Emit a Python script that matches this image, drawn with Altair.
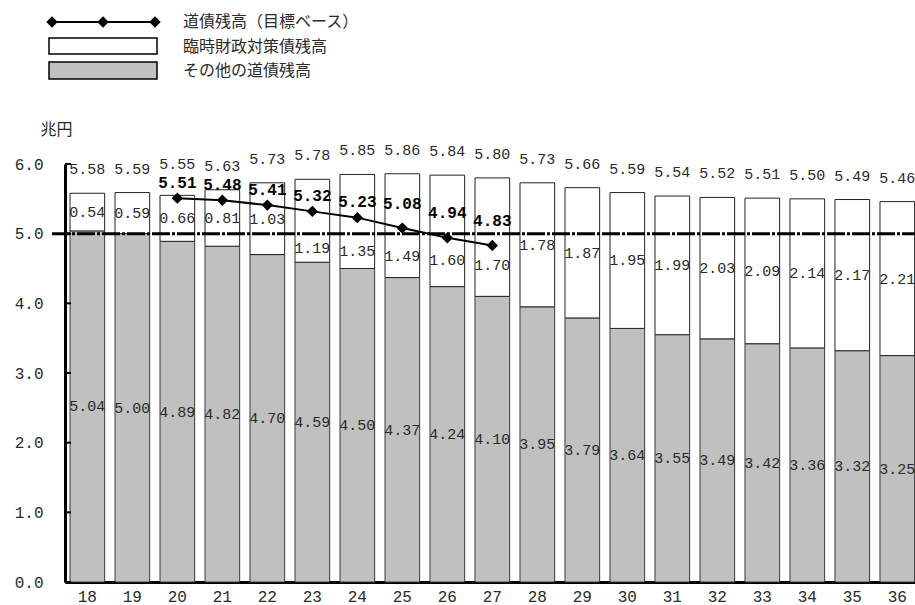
import altair as alt
import pandas as pd

# ---- data ----
years = ["18", "19", "20", "21", "22", "23", "24", "25", "26", "27",
         "28", "29", "30", "31", "32", "33", "34", "35", "36"]
other = [5.04, 5.00, 4.89, 4.82, 4.70, 4.59, 4.50, 4.37, 4.24, 4.10,
         3.95, 3.79, 3.64, 3.55, 3.49, 3.42, 3.36, 3.32, 3.25]
temp = [0.54, 0.59, 0.66, 0.81, 1.03, 1.19, 1.35, 1.49, 1.60, 1.70,
        1.78, 1.87, 1.95, 1.99, 2.03, 2.09, 2.14, 2.17, 2.21]
total = [5.58, 5.59, 5.55, 5.63, 5.73, 5.78, 5.85, 5.86, 5.84, 5.80,
         5.73, 5.66, 5.59, 5.54, 5.52, 5.51, 5.50, 5.49, 5.46]
target_years = ["20", "21", "22", "23", "24", "25", "26", "27"]
target = [5.51, 5.48, 5.41, 5.32, 5.23, 5.08, 4.94, 4.83]
ref_value = [5.0]
y_ticks = [0, 1, 2, 3, 4, 5, 6]
legend_labels = ["道債残高（目標ベース）", "臨時財政対策債残高", "その他の道債残高"]
unit_label = "兆円"

W, H = 850, 418
NUMFONT = "Liberation Mono"
JPFONT = "Noto Sans CJK JP"
GRAY = "#c0c0c0"
TXT = "#2a2a2a"

df = pd.DataFrame({"year": years, "other": other, "temp": temp, "total": total})
df["zero"] = 0.0
df["target"] = df["year"].map(dict(zip(target_years, target)))
# label positions derived from the values
df["temp_pos"] = (df["other"] + df["total"]) / 2
below = df["target"].notna() & (df["target"] < 5.35)
df.loc[below, "temp_pos"] = (df.loc[below, "other"] + ref_value[0]) / 2
df["total_pos"] = df[["total"]].join((df["target"] + 0.15).rename("t")).max(axis=1)
df["other_pos"] = df["other"] / 2
df["other_txt"] = df["other"].map("{:.2f}".format)
df["temp_txt"] = df["temp"].map("{:.2f}".format)
df["total_txt"] = df["total"].map("{:.2f}".format)

tdf = pd.DataFrame({"year": target_years, "target": target})
tdf["txt"] = tdf["target"].map("{:.2f}".format)
tdf["label_pos"] = tdf["target"] + tdf["target"].map(lambda v: 0.35 if v < 5.1 else 0.22)

xax = alt.Axis(title=None, labelAngle=0, ticks=False, domainWidth=3, domainColor="black",
               labelFont=NUMFONT, labelFontSize=16, labelColor=TXT, labelPadding=6)
X = alt.X("year:N", sort=years,
          scale=alt.Scale(paddingInner=0.23, paddingOuter=0.06, align=0.93),
          axis=xax)
yscale = alt.Scale(domain=[0, 6], nice=False, zero=True)
yax = alt.Axis(title=unit_label, titleAngle=0, titleX=-9, titleY=-35, titleAlign="center",
               titleBaseline="middle", titleFont=JPFONT, titleFontSize=16, titleFontWeight="normal",
               titleColor=TXT, values=y_ticks, format=".1f", labelFont=NUMFONT, labelFontSize=16,
               labelColor=TXT, labelPadding=22, ticks=False, grid=False, domainWidth=3,
               domainColor="black")


def Y(field):
    return alt.Y(field, type="quantitative", scale=yscale, axis=yax)


base = alt.Chart(df)

gray_bars = base.mark_bar(fill=GRAY, stroke="#3a3a3a", strokeWidth=1).encode(
    x=X, y=Y("other"), y2="zero")
white_bars = base.mark_bar(fill="white", stroke="#222222", strokeWidth=1).encode(
    x=X, y=Y("total"), y2="other")

inner_ticks = alt.Chart(pd.DataFrame({"v": y_ticks})).mark_rule(
    color="black", strokeWidth=2).encode(y=Y("v"), x=alt.value(0), x2=alt.value(6))

ref_rule = alt.Chart(pd.DataFrame({"v": ref_value})).mark_rule(
    color="black", strokeWidth=3, strokeDash=[18, 2, 3, 2], clip=False).encode(
    y=Y("v"), x=alt.value(-13), x2=alt.value(W))

tline = alt.Chart(tdf).mark_line(color="black", strokeWidth=2).encode(x=X, y=Y("target"))
tpts = alt.Chart(tdf).mark_point(shape="diamond", filled=True, color="black",
                                 size=130, opacity=1).encode(x=X, y=Y("target"))
tlabels = alt.Chart(tdf).mark_text(font=NUMFONT, fontSize=16, fontWeight="bold",
                                   color="black", baseline="middle").encode(
    x=X, y=Y("label_pos"), text="txt:N")

total_labels = base.mark_text(font=NUMFONT, fontSize=15, color=TXT, dy=-24,
                              baseline="middle").encode(x=X, y=Y("total_pos"), text="total_txt:N")
temp_labels = base.mark_text(font=NUMFONT, fontSize=15, color=TXT,
                             baseline="middle").encode(x=X, y=Y("temp_pos"), text="temp_txt:N")
other_labels = base.mark_text(font=NUMFONT, fontSize=15, color=TXT,
                              baseline="middle").encode(x=X, y=Y("other_pos"), text="other_txt:N")

# ---- manual legend (pixel positions relative to plot origin) ----
one = pd.DataFrame({"k": [0]})
leg_line = alt.Chart(one).mark_rule(color="black", strokeWidth=2, clip=False).encode(
    x=alt.value(-13), x2=alt.value(90), y=alt.value(-142))
leg_pts = [alt.Chart(one).mark_point(shape="diamond", filled=True, color="black", size=130,
                                     opacity=1, clip=False).encode(x=alt.value(px), y=alt.value(-142))
           for px in (-13, 38, 90)]
leg_white = alt.Chart(one).mark_rect(fill="white", stroke="black", strokeWidth=1.5).encode(
    x=alt.value(-16), x2=alt.value(92), y=alt.value(-126), y2=alt.value(-110))
leg_gray = alt.Chart(one).mark_rect(fill=GRAY, stroke="black", strokeWidth=1.5).encode(
    x=alt.value(-16), x2=alt.value(92), y=alt.value(-102), y2=alt.value(-85))
leg_text = [alt.Chart(pd.DataFrame({"t": [lab]})).mark_text(
    font=JPFONT, fontSize=16, color=TXT, align="left", baseline="middle").encode(
    x=alt.value(118), y=alt.value(py), text="t:N")
    for lab, py in zip(legend_labels, (-142, -117, -93))]

chart = alt.layer(
    gray_bars, white_bars, inner_ticks, ref_rule, tline, tpts,
    total_labels, temp_labels, other_labels, tlabels,
    leg_line, *leg_pts, leg_white, leg_gray, *leg_text,
).properties(
    width=W, height=H,
    padding={"left": 65, "top": 164, "right": 0, "bottom": 23},
    autosize=alt.AutoSizeParams(type="none"),
    background="white",
).configure_view(stroke=None)

chart.save("out.html", embed_options={"renderer": "svg", "actions": False})
